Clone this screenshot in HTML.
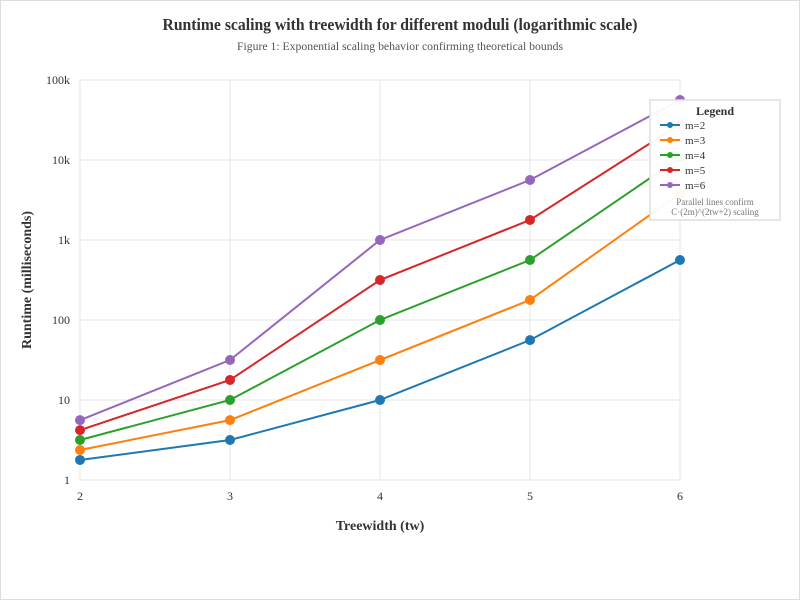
<!DOCTYPE html>
<html><head><meta charset="utf-8"><style>
body{margin:0;background:#fff;font-family:"Liberation Serif",serif;}
svg text{font-family:"Liberation Serif",serif;}
</style></head><body>
<svg width="800" height="600">
<rect x="0.5" y="0.5" width="799" height="599" fill="#fff" stroke="#ddd"/>
<text x="400" y="30" text-anchor="middle" font-size="17" font-weight="bold" fill="#333" textLength="475" lengthAdjust="spacingAndGlyphs">Runtime scaling with treewidth for different moduli (logarithmic scale)</text>
<text x="400" y="50" text-anchor="middle" font-size="12" fill="#555" textLength="326" lengthAdjust="spacingAndGlyphs">Figure 1: Exponential scaling behavior confirming theoretical bounds</text>
<g id="grid"></g><g id="series"></g>
<text x="380" y="530" text-anchor="middle" font-size="14" font-weight="bold" fill="#333">Treewidth (tw)</text>
<text transform="translate(31,280) rotate(-90)" text-anchor="middle" font-size="14" font-weight="bold" fill="#333">Runtime (milliseconds)</text>
<g id="legend">
<rect x="650" y="100" width="130" height="120" fill="#fff" fill-opacity="0.95" stroke="#ddd" stroke-width="1.5"/>
<text x="715" y="115" text-anchor="middle" font-size="12" font-weight="bold" fill="#333">Legend</text>
<text x="715" y="205" text-anchor="middle" font-size="9" fill="#777">Parallel lines confirm</text>
<text x="715" y="215" text-anchor="middle" font-size="9" fill="#777">C·(2m)^(2tw+2) scaling</text>
</g>
</svg>
<script>
const treewidths=[2,3,4,5,6];
const seriesNames=["m=2","m=3","m=4","m=5","m=6"];
const m2=[1.78,3.16,10,56,562];
const m3=[2.37,5.6,31.6,178,3800];
const m4=[3.16,10,100,562,10700];
const m5=[4.2,17.8,316,1780,28000];
const m6=[5.6,31.6,1000,5620,56200];
const yTicks=[1,10,100,1000,10000,100000];
const yTickLabels=["1","10","100","1k","10k","100k"];
const colors=["#1f77b4","#ff7f0e","#2ca02c","#d62728","#9467bd"];
const allSeries=[m2,m3,m4,m5,m6];
const NS="http://www.w3.org/2000/svg";
const X=t=>80+(t-2)*150;
const Y=v=>480-Math.log10(v)*80;
function mk(tag,attrs,parent){const e=document.createElementNS(NS,tag);for(const k in attrs)e.setAttribute(k,attrs[k]);parent.appendChild(e);return e;}
const grid=document.getElementById('grid');
mk('rect',{x:80,y:80,width:600,height:400,fill:'none',stroke:'#ddd'},grid);
yTicks.forEach((v,i)=>{
 const l=mk('line',{x1:80,x2:680,y1:Y(v),y2:Y(v),stroke:'#eee','stroke-width':1.5},grid);
 
 
 const t=mk('text',{x:70,y:Y(v)+4,'text-anchor':'end','font-size':12,fill:'#333'},grid);
 t.textContent=yTickLabels[i];
 
 
});
treewidths.forEach(tw=>{
 const l=mk('line',{x1:X(tw),x2:X(tw),y1:80,y2:480,stroke:'#eee','stroke-width':1.5},grid);
 
 
 const t=mk('text',{x:X(tw),y:500,'text-anchor':'middle','font-size':12,fill:'#333'},grid);
 t.textContent=tw;
 
 
});
const sg=document.getElementById('series');
allSeries.forEach((vals,si)=>{
 const g=mk('g',{},sg);
 
 
 const p=mk('polyline',{points:vals.map((v,i)=>X(treewidths[i])+','+Y(v)).join(' '),fill:'none',stroke:colors[si],'stroke-width':2},g);
 
 
 vals.forEach((v,i)=>{
  const c=mk('circle',{cx:X(treewidths[i]),cy:Y(v),r:5,fill:colors[si]},g);
  
  
 });
});
const lg=document.getElementById('legend');
seriesNames.forEach((n,i)=>{
 const y=125+i*15;
 const e=mk('g',{},lg);
 
 
 mk('line',{x1:660,x2:680,y1:y,y2:y,stroke:colors[i],'stroke-width':2},e);
 mk('circle',{cx:670,cy:y,r:3,fill:colors[i]},e);
 const t=mk('text',{x:685,y:y+4,'font-size':11,fill:'#333'},e);
 t.textContent=n;
});
</script>
</body></html>
